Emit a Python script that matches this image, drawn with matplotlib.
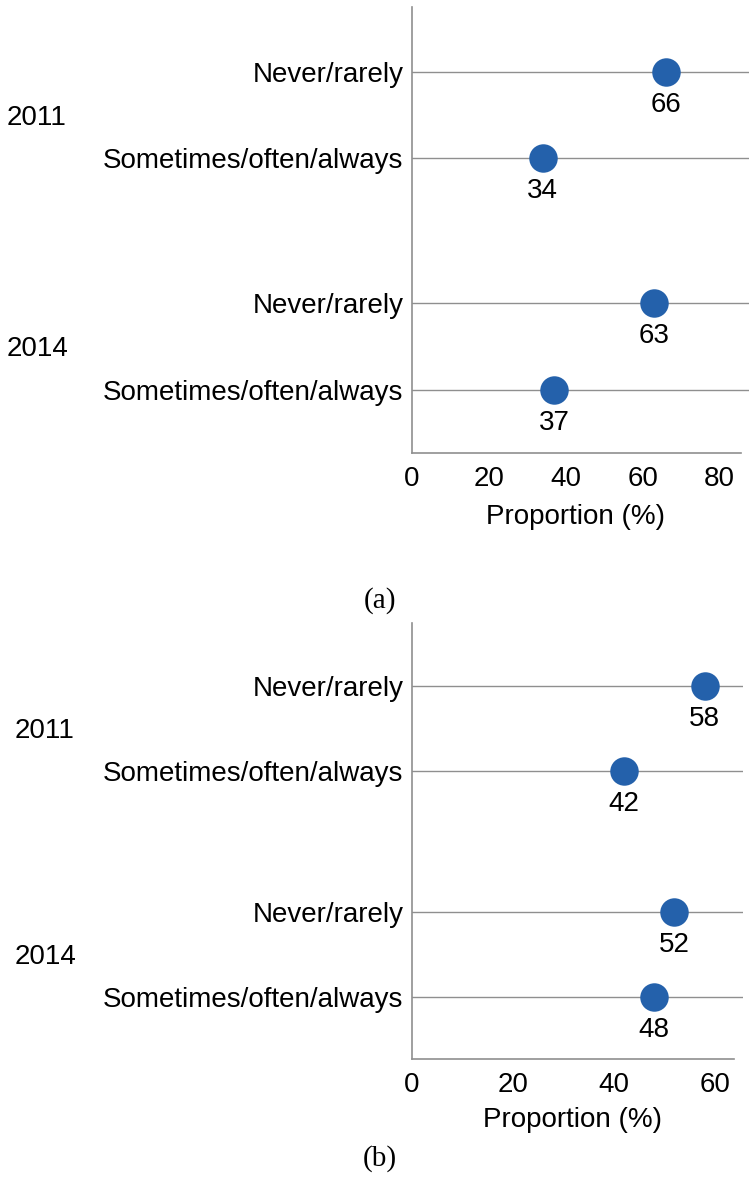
import matplotlib
matplotlib.use("Agg")
import matplotlib.pyplot as plt
from matplotlib.transforms import blended_transform_factory

plt.rcParams['font.family'] = ['Liberation Sans', 'DejaVu Sans']

years = ["2011", "2014"]
categories = ["Never/rarely", "Sometimes/often/always"]
values_a = [66, 34, 63, 37]   # 2011 never, 2011 sometimes, 2014 never, 2014 sometimes
values_b = [58, 42, 52, 48]
xticks_a = [0, 20, 40, 60, 80]
xticks_b = [0, 20, 40, 60]

W, H = 755, 1186
DPI = 100
fig = plt.figure(figsize=(W / DPI, H / DPI), dpi=DPI)

BLUE = "#2461ab"
GRID = "#8f8f8f"
FS = 20


def panel(rect, values, xticks, xlim_max, spine_max, gap, ylims, year_x, lab_y, caption, cap_y):
    ax = fig.add_axes(rect)
    ys = []
    for g in range(len(years)):
        for c in range(len(categories)):
            ys.append(g * gap + c)
    labels = [categories[c] for g in range(len(years)) for c in range(len(categories))]
    ax.set_xlim(0, xlim_max)
    ax.set_ylim(*ylims)
    ax.set_yticks(ys)
    ax.set_yticklabels(labels, fontsize=FS)
    ax.set_xticks(xticks)
    ax.set_xticklabels([str(t) for t in xticks], fontsize=FS)
    ax.tick_params(axis='both', length=0)
    ax.tick_params(axis='y', pad=6)
    ax.tick_params(axis='x', pad=9.5)
    ax.grid(axis='y', color=GRID, linewidth=1.0)
    ax.grid(axis='x', visible=False)
    ax.set_axisbelow(True)
    for s in ['top', 'right']:
        ax.spines[s].set_visible(False)
    ax.spines['left'].set_color(GRID)
    ax.spines['bottom'].set_color(GRID)
    ax.spines['left'].set_linewidth(1.2)
    ax.spines['bottom'].set_linewidth(1.2)
    ax.spines['bottom'].set_bounds(0, spine_max)
    ax.plot(values, ys, 'o', color=BLUE, markersize=20.5, markeredgewidth=0,
            linestyle='none', zorder=3)
    for v, y in zip(values, ys):
        ax.annotate(str(v), (v, y), xytext=(0, -33), textcoords='offset pixels',
                    ha='center', va='center', fontsize=FS)
    tr = blended_transform_factory(fig.transFigure, ax.transData)
    for g, yr in enumerate(years):
        ymid = g * gap + 0.5 + 0.03
        ax.text(year_x, ymid, yr, transform=tr, ha='left', va='center', fontsize=FS)
    ax.set_xlabel("Proportion (%)", fontsize=FS)
    ax.xaxis.label.set_va('center')
    ax.xaxis.set_label_coords(lab_y[0], lab_y[1])
    fig.text(380 / W, 1 - cap_y / H, caption, ha='center', va='center',
             fontsize=21, family=['Liberation Serif', 'DejaVu Serif'])
    return ax


# panel (a)
left = 411.7 / W
panel([left, 1 - 453 / H, (749 - 411.7) / W, (453 - 7) / H],
      values_a, xticks_a, 87.6, 85.5, 2.68, (4.41, -0.75),
      7 / W, (0.486, -0.1435), "(a)", 601)

# panel (b)
panel([left, 1 - 1059 / H, (743 - 411.7) / W, (1059 - 623) / H],
      values_b, xticks_b, 65.6, 63.8, 2.66, (4.39, -0.74),
      15 / W, (0.484, -0.14), "(b)", 1159)

fig.savefig("out.png", dpi=DPI)
